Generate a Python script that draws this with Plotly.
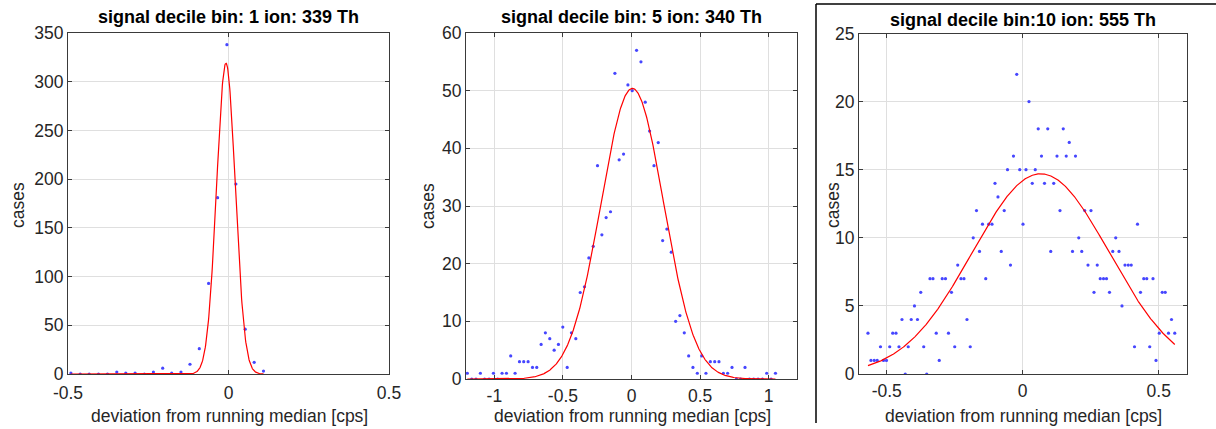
import numpy as np
import plotly.graph_objects as go

# ---------------- data ----------------
titles = ["signal decile bin: 1 ion: 339 Th",
          "signal decile bin: 5 ion: 340 Th",
          "signal decile bin:10 ion: 555 Th"]
xlabel = "deviation from running median [cps]"
ylabel = "cases"

x1 = [-0.491, -0.462, -0.434, -0.405, -0.377, -0.348, -0.320, -0.291, -0.262, -0.234,
      -0.205, -0.177, -0.148, -0.120, -0.091, -0.062, -0.034, -0.005, 0.023, 0.052,
      0.080, 0.109]
y1 = [1, 0, 0, 0, 0, 2, 1, 1, 0, 2, 6, 1, 2, 10, 26, 93, 181, 338, 195, 46, 12, 3]
fit1 = dict(amp=319.0, mu=-0.008, sigma=0.029)

x2 = [-1.197, -1.165, -1.134, -1.102, -1.071, -1.039, -1.007, -0.976, -0.944, -0.912,
      -0.881, -0.849, -0.817, -0.786, -0.754, -0.722, -0.691, -0.659, -0.628, -0.596,
      -0.564, -0.533, -0.501, -0.469, -0.438, -0.406, -0.374, -0.343, -0.311, -0.279,
      -0.248, -0.216, -0.185, -0.153, -0.121, -0.090, -0.058, -0.026, 0.005, 0.037,
      0.069, 0.100, 0.132, 0.164, 0.195, 0.227, 0.258, 0.290, 0.322, 0.353,
      0.385, 0.417, 0.448, 0.480, 0.512, 0.543, 0.575, 0.607, 0.638, 0.670,
      0.701, 0.733, 0.765, 0.796, 0.828, 0.860, 0.891, 0.923, 0.955, 0.986,
      1.018, 1.050]
y2 = [1, 0, 0, 1, 0, 0, 1, 0, 1, 1,
      4, 1, 3, 3, 3, 2, 2, 6, 8, 7,
      5, 6, 9, 2, 8, 7, 15, 16, 21, 23,
      37, 25, 28, 29, 53, 38, 39, 51, 50, 57,
      55, 48, 43, 37, 41, 24, 26, 22, 10, 11,
      8, 4, 2, 1, 4, 1, 3, 3, 3, 1,
      1, 2, 0, 0, 2, 0, 0, 0, 0, 1,
      0, 1]
fit2 = dict(amp=50.4, mu=0.006, sigma=0.228)

x3 = [-0.569, -0.558, -0.546, -0.535, -0.523, -0.512, -0.501, -0.489, -0.478, -0.466,
      -0.455, -0.444, -0.432, -0.421, -0.410, -0.398, -0.387, -0.375, -0.364, -0.353,
      -0.341, -0.330, -0.318, -0.307, -0.296, -0.284, -0.273, -0.262, -0.250, -0.239,
      -0.227, -0.216, -0.205, -0.193, -0.182, -0.170, -0.159, -0.148, -0.136, -0.125,
      -0.113, -0.102, -0.091, -0.079, -0.068, -0.056, -0.045, -0.034, -0.022, -0.011,
      0.001, 0.012, 0.023, 0.035, 0.046, 0.057, 0.069, 0.080, 0.092, 0.103,
      0.114, 0.126, 0.137, 0.149, 0.160, 0.171, 0.183, 0.194, 0.206, 0.217,
      0.228, 0.240, 0.251, 0.262, 0.274, 0.285, 0.297, 0.308, 0.319, 0.331,
      0.342, 0.354, 0.365, 0.376, 0.388, 0.399, 0.411, 0.422, 0.433, 0.445,
      0.456, 0.467, 0.479, 0.490, 0.502, 0.513, 0.524, 0.536, 0.547, 0.559]
y3 = [3, 1, 1, 1, 2, 1, 1, 2, 3, 3,
      2, 4, 0, 2, 4, 5, 4, 6, 2, 0,
      7, 7, 3, 1, 7, 7, 3, 6, 2, 8,
      7, 7, 4, 2, 10, 12, 9, 11, 7, 11,
      11, 14, 13, 9, 12, 15, 8, 16, 22, 15,
      11, 15, 20, 14, 15, 18, 16, 14, 18, 9,
      14, 16, 12, 18, 16, 17, 9, 16, 10, 9,
      12, 8, 12, 6, 8, 7, 7, 7, 6, 9,
      10, 9, 5, 8, 8, 8, 2, 11, 6, 7,
      7, 2, 7, 1, 3, 6, 6, 3, 4, 3]
fit3 = dict(amp=14.7, mu=0.066, sigma=0.252)

x_ranges = [[-0.5, 0.5], [-1.207, 1.207], [-0.602, 0.604]]
y_ranges = [[0, 350], [0, 60], [0, 25]]
x_ticks = [[-0.5, 0, 0.5], [-1, -0.5, 0, 0.5, 1], [-0.5, 0, 0.5]]
y_ticks = [list(range(0, 351, 50)), list(range(0, 61, 10)), list(range(0, 26, 5))]

# ---------------- layout geometry (pixels) ----------------
W, H = 1216, 429
boxes = [(68, 389, 33, 374), (466, 797, 33, 379), (859, 1187, 33.5, 374)]
x_label_standoff = [3, 1, 1]

TXT = "#262626"
FONT = "Liberation Sans, Arial, sans-serif"

fig = go.Figure()
series = [(x1, y1, fit1), (x2, y2, fit2), (x3, y3, fit3)]

for i, (xs, ys, fit) in enumerate(series):
    ax = "" if i == 0 else str(i + 1)
    fig.add_trace(go.Scatter(x=xs, y=ys, mode="markers",
                             marker=dict(size=3.2, color="rgb(70,70,255)", line=dict(width=0)),
                             xaxis="x" + ax, yaxis="y" + ax, showlegend=False,
                             cliponaxis=True, hoverinfo="skip"))
    xf = np.linspace(min(xs), max(xs), 600)
    yf = fit["amp"] * np.exp(-(xf - fit["mu"]) ** 2 / (2 * fit["sigma"] ** 2))
    fig.add_trace(go.Scatter(x=xf, y=yf, mode="lines",
                             line=dict(color="rgb(255,0,0)", width=1.2),
                             xaxis="x" + ax, yaxis="y" + ax, showlegend=False,
                             hoverinfo="skip"))

layout = dict(template="none", width=W, height=H, margin=dict(l=0, r=0, t=0, b=0, pad=0),
              paper_bgcolor="white", plot_bgcolor="white", showlegend=False)

for i, (l, r, t, b) in enumerate(boxes):
    ax = "" if i == 0 else str(i + 1)
    common = dict(showline=True, linecolor="#3a3a3a", linewidth=1, mirror="ticks",
                  ticks="inside", ticklen=4, tickcolor="#3a3a3a", tickwidth=1,
                  showgrid=True, gridcolor="#dfdfdf", gridwidth=1, zeroline=False,
                  automargin=False,
                  tickfont=dict(family=FONT, size=17.5, color=TXT))
    layout["xaxis" + ax] = dict(common, domain=[l / W, r / W], range=x_ranges[i],
                                tickvals=x_ticks[i], anchor="y" + ax,
                                ticklabelstandoff=x_label_standoff[i],
                                ticktext=[("%g" % v) for v in x_ticks[i]])
    layout["yaxis" + ax] = dict(common, domain=[1 - b / H, 1 - t / H], range=y_ranges[i],
                                tickvals=y_ticks[i], anchor="x" + ax)

fig.update_layout(**layout)

# titles and axis labels as annotations
title_pos = [(228.5, 17), (631.5, 17), (1022.5, 20)]
xlab_pos = [(229, 416), (632.5, 416), (1023, 416)]
ylab_pos = [(18, 205), (428, 206), (833, 205)]
for i in range(3):
    fig.add_annotation(x=title_pos[i][0] / W, y=1 - title_pos[i][1] / H, xref="paper", yref="paper",
                       text="<b>" + titles[i] + "</b>", showarrow=False, xanchor="center", yanchor="middle",
                       font=dict(family=FONT, size=18, color="black"))
    fig.add_annotation(x=xlab_pos[i][0] / W, y=1 - xlab_pos[i][1] / H, xref="paper", yref="paper",
                       text=xlabel, showarrow=False, xanchor="center", yanchor="middle",
                       font=dict(family=FONT, size=17.5, color=TXT))
    fig.add_annotation(x=ylab_pos[i][0] / W, y=1 - ylab_pos[i][1] / H, xref="paper", yref="paper",
                       text=ylabel, showarrow=False, xanchor="center", yanchor="middle", textangle=-90,
                       font=dict(family=FONT, size=17.5, color=TXT))

# partial frame around the third panel
fig.add_shape(type="line", xref="paper", yref="paper", x0=816 / W, x1=816 / W,
              y0=1 - 423 / H, y1=1 - 4 / H, line=dict(color="black", width=1.5))
fig.add_shape(type="line", xref="paper", yref="paper", x0=816 / W, x1=1.0,
              y0=1 - 4 / H, y1=1 - 4 / H, line=dict(color="black", width=1.5))

fig.write_html("out.html", config={"displayModeBar": False, "staticPlot": True},
               post_script="document.body.style.margin='0';document.body.style.overflow='hidden';")
